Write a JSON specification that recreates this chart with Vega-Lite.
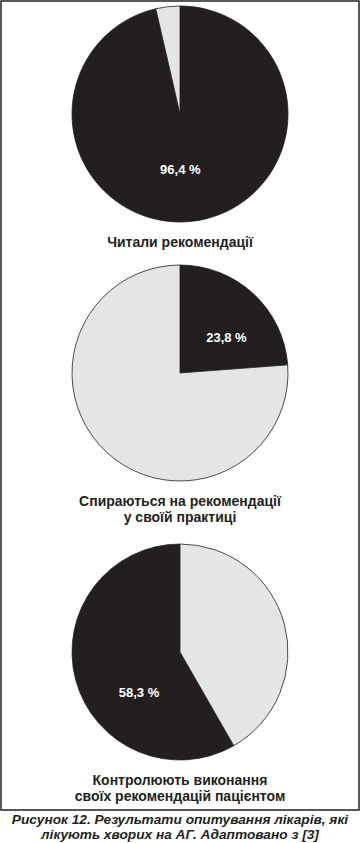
{
  "$schema": "https://vega.github.io/schema/vega-lite/v6.json",
  "width": 358,
  "height": 809,
  "autosize": {"type": "none"},
  "padding": {"left": 1, "top": 1, "right": 1, "bottom": 33},
  "background": "white",
  "config": {
    "view": {"stroke": "#231f20", "strokeWidth": 1.5},
    "font": "Liberation Sans"
  },
  "title": {
    "text": ["Рисунок 12. Результати опитування лікарів, які", "лікують хворих на АГ. Адаптовано з [3]"],
    "orient": "bottom",
    "anchor": "middle",
    "offset": 3,
    "font": "Liberation Sans",
    "fontSize": 13.7,
    "fontStyle": "italic",
    "fontWeight": "bold",
    "color": "#231f20",
    "lineHeight": 15
  },
  "data": {
    "values": [
      {"q": 1, "slice": 1, "title": "Читали рекомендації", "group": "dark", "value": 96.4, "label": "96,4 %"},
      {"q": 1, "slice": 2, "title": "Читали рекомендації", "group": "light", "value": 3.6, "label": ""},
      {"q": 2, "slice": 1, "title": "Спираються на рекомендації\nу своїй практиці", "group": "dark", "value": 23.8, "label": "23,8 %"},
      {"q": 2, "slice": 2, "title": "Спираються на рекомендації\nу своїй практиці", "group": "light", "value": 76.2, "label": ""},
      {"q": 3, "slice": 2, "title": "Контролюють виконання\nсвоїх рекомендацій пацієнтом", "group": "dark", "value": 58.3, "label": "58,3 %"},
      {"q": 3, "slice": 1, "title": "Контролюють виконання\nсвоїх рекомендацій пацієнтом", "group": "light", "value": 41.7, "label": ""}
    ]
  },
  "transform": [
    {"stack": "value", "groupby": ["q"], "sort": [{"field": "slice", "order": "ascending"}], "as": ["v0", "v1"]},
    {"calculate": "(datum.v0 + datum.v1) / 2", "as": "vmid"}
  ],
  "encoding": {
    "y": {"field": "q", "type": "quantitative", "axis": null, "stack": null,
          "scale": {"domain": [1, 2, 3], "range": [113, 372, 651], "zero": false, "nice": false}}
  },
  "layer": [
    {
      "mark": {"type": "arc", "radius": 108, "stroke": "#231f20", "strokeWidth": 0.8},
      "encoding": {
        "theta": {"field": "v0", "type": "quantitative", "stack": null, "scale": {"domain": [0, 100], "zero": true, "nice": false}},
        "theta2": {"field": "v1"},
        "color": {"field": "group", "type": "nominal", "legend": null,
                  "scale": {"domain": ["dark", "light"], "range": ["#231f20", "#e4e5e6"]}}
      }
    },
    {
      "transform": [{"filter": "datum.q == 1 && datum.group == 'dark'"}],
      "mark": {"type": "text", "radius": 56, "dx": -6, "fontSize": 13, "fontWeight": "bold", "color": "white"},
      "encoding": {
        "theta": {"field": "vmid", "type": "quantitative", "stack": null},
        "text": {"field": "label"}
      }
    },
    {
      "transform": [{"filter": "datum.q == 2 && datum.group == 'dark'"}],
      "mark": {"type": "text", "radius": 58, "dx": 7, "dy": 8, "fontSize": 13, "fontWeight": "bold", "color": "white"},
      "encoding": {
        "theta": {"field": "vmid", "type": "quantitative", "stack": null},
        "text": {"field": "label"}
      }
    },
    {
      "transform": [{"filter": "datum.q == 3 && datum.group == 'dark'"}],
      "mark": {"type": "text", "radius": 58, "dx": 15, "dy": 26, "fontSize": 13, "fontWeight": "bold", "color": "white"},
      "encoding": {
        "theta": {"field": "vmid", "type": "quantitative", "stack": null},
        "text": {"field": "label"}
      }
    },
    {
      "transform": [{"filter": "datum.group == 'dark'"}],
      "mark": {"type": "text", "baseline": "top", "align": "center", "dy": 122, "lineBreak": "\n", "lineHeight": 16,
               "fontSize": 14, "fontWeight": "bold", "color": "#231f20"},
      "encoding": {
        "text": {"field": "title"}
      }
    }
  ]
}
